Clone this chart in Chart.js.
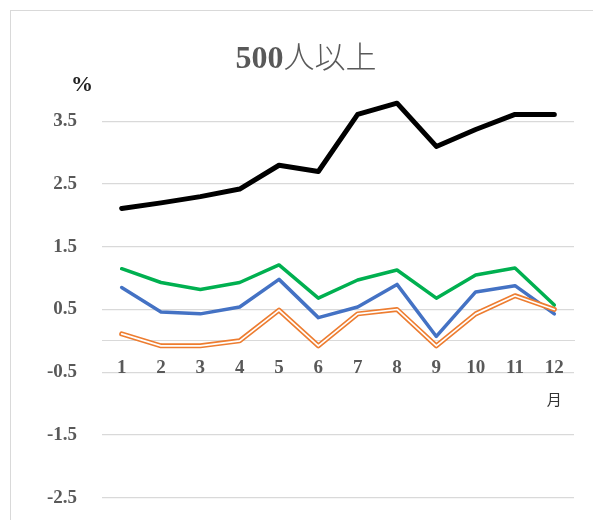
<!DOCTYPE html>
<html>
<head>
<meta charset="utf-8">
<script src="https://cdn.jsdelivr.net/npm/chart.js@4"></script>
<style>
html,body{margin:0;padding:0;background:#fff;overflow:hidden;}
#wrap{position:relative;width:593px;height:520px;overflow:hidden;}
canvas{display:block;}
</style>
</head>
<body>
<div id="wrap"><canvas id="c" width="593" height="534"></canvas></div>
<script>
const categories = ['1','2','3','4','5','6','7','8','9','10','11','12'];
const seriesBlack  = [2.11, 2.20, 2.30, 2.42, 2.80, 2.70, 3.61, 3.79, 3.10, 3.37, 3.61, 3.61];
const seriesGreen  = [1.15, 0.93, 0.82, 0.93, 1.21, 0.68, 0.97, 1.13, 0.68, 1.05, 1.16, 0.57];
const seriesBlue   = [0.85, 0.46, 0.43, 0.54, 0.98, 0.37, 0.54, 0.90, 0.07, 0.78, 0.88, 0.43];
const seriesOrange = [0.11, -0.08, -0.08, 0.00, 0.49, -0.08, 0.43, 0.50, -0.08, 0.43, 0.72, 0.50];
const yTicks = [-2.5, -1.5, -0.5, 0.5, 1.5, 2.5, 3.5];
const titleNum = '500';
const titleText = '人以上';
const yUnit = '%';
const xUnit = '月';

const overlay = {
  id: 'overlay',
  beforeDraw(chart) {
    const ctx = chart.ctx;
    ctx.save();
    ctx.strokeStyle = '#d9d9d9';
    ctx.lineWidth = 1;
    ctx.strokeRect(10.5, 10.5, 700, 700);
    ctx.restore();
  },
  afterDraw(chart) {
    const ctx = chart.ctx;
    ctx.save();
    const f1 = 'bold 32px "Liberation Serif", serif';
    const f2 = '300 31px "Noto Sans CJK JP", sans-serif';
    ctx.font = f1; const w1 = ctx.measureText(titleNum).width;
    ctx.font = f2; const w2 = ctx.measureText(titleText).width;
    const cx = 306;
    const x0 = cx - (w1 + w2) / 2;
    ctx.fillStyle = '#595959';
    ctx.textBaseline = 'alphabetic';
    ctx.textAlign = 'left';
    ctx.font = f1; ctx.fillText(titleNum, x0, 68);
    ctx.font = f2; ctx.fillText(titleText, x0 + w1, 68);
    ctx.fillStyle = '#222';
    ctx.textAlign = 'center';
    ctx.textBaseline = 'middle';
    ctx.font = 'bold 22px "Liberation Serif", serif';
    ctx.fillText(yUnit, 82, 85);
    const xs = chart.scales.x;
    ctx.fillStyle = '#333';
    ctx.font = '15px "Noto Sans CJK JP", sans-serif';
    ctx.fillText(xUnit, xs.getPixelForValue(categories.length - 1), 399);
    ctx.restore();
  }
};

const common = {pointRadius: 0, pointHoverRadius: 0, fill: false, tension: 0,
  borderCapStyle: 'round', borderJoinStyle: 'round'};

new Chart(document.getElementById('c'), {
  type: 'line',
  data: {
    labels: categories,
    datasets: [
      Object.assign({label: 'black', data: seriesBlack, borderColor: '#000000', borderWidth: 5, order: 5}, common),
      Object.assign({label: 'green', data: seriesGreen, borderColor: '#00B050', borderWidth: 3.5, order: 4}, common),
      Object.assign({label: 'blue', data: seriesBlue, borderColor: '#4472C4', borderWidth: 3.5, order: 3}, common),
      Object.assign({label: 'orange', data: seriesOrange, borderColor: '#ED7D31', borderWidth: 5, order: 2}, common),
      Object.assign({label: 'orange-inner', data: seriesOrange, borderColor: '#ffffff', borderWidth: 1.7, order: 1}, common)
    ]
  },
  options: {
    responsive: false,
    animation: false,
    events: [],
    layout: {padding: {top: 90, bottom: 9, right: 19, left: 0}},
    plugins: {legend: {display: false}, title: {display: false}, tooltip: {enabled: false}},
    scales: {
      x: {
        type: 'category',
        offset: true,
        position: {y: 0},
        grid: {display: false, drawTicks: false},
        border: {display: true, color: '#d9d9d9', width: 1},
        ticks: {autoSkip: false, maxRotation: 0, padding: 16, color: '#595959',
          font: {family: '"Liberation Serif", serif', size: 19, weight: 'bold'}},
        afterFit(scale) { scale.height = 0; }
      },
      y: {
        min: -2.5,
        max: 4,
        afterBuildTicks(scale) { scale.ticks = yTicks.map(v => ({value: v})); },
        afterFit(scale) { scale.width = 102; },
        grid: {color: '#d9d9d9', lineWidth: 1.2, drawTicks: false},
        border: {display: false},
        ticks: {padding: 25, color: '#595959',
          callback: (v) => v.toFixed(1),
          font: {family: '"Liberation Serif", serif', size: 19, weight: 'bold'}}
      }
    }
  },
  plugins: [overlay]
});
</script>
</body>
</html>
